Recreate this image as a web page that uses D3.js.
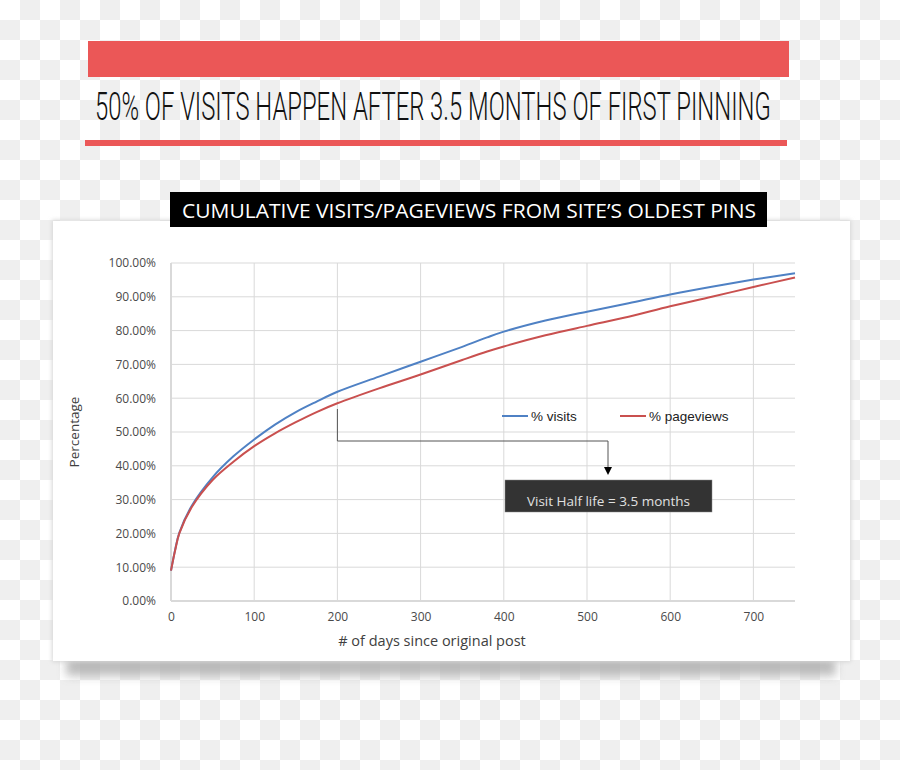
<!DOCTYPE html>
<html><head><meta charset="utf-8">
<script src="https://cdn.jsdelivr.net/npm/d3@7"></script>
<style>html,body{margin:0;padding:0;background:#fff;} svg{display:block}</style>
</head><body><svg id="c" width="900" height="770"></svg>
<script>
// ---- data ----
const days      = [0, 5, 10, 25, 50, 75, 100, 125, 150, 175, 200, 250, 300, 350, 380, 400, 450, 500, 550, 600, 650, 700, 750];
const visits    = [9, 15.2, 20.2, 28.2, 36.6, 42.8, 47.8, 52.2, 55.9, 59.0, 61.9, 66.4, 70.8, 75.2, 78.0, 79.7, 83.0, 85.6, 88.1, 90.7, 93.0, 95.1, 97.0];
const pageviews = [9, 15, 20, 27.8, 35.8, 41.2, 45.8, 49.6, 52.9, 55.9, 58.5, 62.9, 67.0, 71.3, 73.8, 75.3, 78.6, 81.4, 84.1, 87.2, 90.0, 92.9, 95.7];
const seriesNames = ["% visits", "% pageviews"];
const yTicks = [0, 10, 20, 30, 40, 50, 60, 70, 80, 90, 100];
const xTicks = [0, 100, 200, 300, 400, 500, 600, 700];
const headline = "50% OF VISITS HAPPEN AFTER 3.5 MONTHS OF FIRST PINNING";
const subtitle = "CUMULATIVE VISITS/PAGEVIEWS FROM SITE\u2019S OLDEST PINS";
const annotationText = "Visit Half life = 3.5 months";
const annotationDay = 200;

const svg = d3.select("#c");
const defs = svg.append("defs");

// checkerboard background
const pat = defs.append("pattern").attr("id","chk").attr("width",40).attr("height",40).attr("patternUnits","userSpaceOnUse");
pat.append("rect").attr("width",40).attr("height",40).attr("fill","#ffffff");
pat.append("rect").attr("x",20).attr("y",0).attr("width",20).attr("height",20).attr("fill","#efefef");
pat.append("rect").attr("x",0).attr("y",20).attr("width",20).attr("height",20).attr("fill","#efefef");
svg.append("rect").attr("width",900).attr("height",770).attr("fill","url(#chk)");

// header
svg.append("rect").attr("x",88).attr("y",41).attr("width",701).attr("height",36).attr("fill","#eb5757");
const ht = svg.append("text").attr("x",0).attr("y",0).attr("font-family","Roboto,'Liberation Sans',sans-serif").attr("font-weight",300)
  .attr("font-size",38).attr("fill","#111").text(headline);
const hw = ht.node().getComputedTextLength() || 1;
ht.attr("transform",`translate(95,120) scale(${676/hw},1)`);
svg.append("rect").attr("x",85).attr("y",140).attr("width",702).attr("height",6).attr("fill","#eb5757");

// card shadow
const f = defs.append("filter").attr("id","blur").attr("x","-10%").attr("y","-100%").attr("width","120%").attr("height","300%");
f.append("feGaussianBlur").attr("stdDeviation",5);
svg.append("rect").attr("x",66).attr("y",652).attr("width",770).attr("height",24).attr("fill","#a8a8a8").attr("opacity",0.75).attr("filter","url(#blur)");
const f2 = defs.append("filter").attr("id","blur2").attr("x","-10%").attr("y","-10%").attr("width","120%").attr("height","120%");
f2.append("feGaussianBlur").attr("stdDeviation",2);
svg.append("rect").attr("x",52).attr("y",220).attr("width",799).attr("height",442).attr("fill","#d6d6d6").attr("filter","url(#blur2)");
svg.append("rect").attr("x",53).attr("y",221).attr("width",797).attr("height",440).attr("fill","#ffffff");

// subtitle
svg.append("rect").attr("x",170).attr("y",192).attr("width",597).attr("height",35).attr("fill","#000");
svg.append("text").attr("x",182).attr("y",218).attr("font-family","'Open Sans',sans-serif").attr("font-size",20).attr("font-weight",400)
  .attr("fill","#fff").attr("textLength",574).attr("lengthAdjust","spacingAndGlyphs").text(subtitle);

// scales
const x = d3.scaleLinear().domain([0,750]).range([171,795]);
const y = d3.scaleLinear().domain([0,100]).range([601,263]);
const font = "'Open Sans',sans-serif";

// gridlines
const g = svg.append("g");
g.selectAll("line.h").data(yTicks).join("line").attr("class","h")
  .attr("x1",x(0)).attr("x2",x(750)).attr("y1",d=>y(d)).attr("y2",d=>y(d))
  .attr("stroke","#d9d9d9").attr("stroke-width",d=>d===0?2:1);
g.selectAll("line.v").data(xTicks).join("line").attr("class","v")
  .attr("x1",d=>x(d)).attr("x2",d=>x(d)).attr("y1",y(0)).attr("y2",y(100))
  .attr("stroke","#d9d9d9").attr("stroke-width",d=>d===0?2:1);

// axes
const ya = svg.append("g").attr("transform",`translate(${x(0)-12},0)`)
  .call(d3.axisLeft(y).tickValues(yTicks).tickSize(0).tickFormat(d=>d3.format(".2f")(d)+"%"));
ya.select(".domain").remove();
ya.selectAll("text").attr("font-family",font).attr("font-size",12).attr("fill","#4a4a4a").attr("dx",0);
const xa = svg.append("g").attr("transform",`translate(0,${y(0)+8})`)
  .call(d3.axisBottom(x).tickValues(xTicks).tickSize(0).tickFormat(d3.format("d")));
xa.select(".domain").remove();
xa.selectAll("text").attr("font-family",font).attr("font-size",12).attr("fill","#4a4a4a");

svg.append("text").attr("transform","translate(79,432) rotate(-90)").attr("text-anchor","middle")
  .attr("font-family",font).attr("font-size",13.5).attr("fill","#404040").text("Percentage");
svg.append("text").attr("x",432).attr("y",646).attr("text-anchor","middle")
  .attr("font-family",font).attr("font-size",14.5).attr("fill","#404040").text("# of days since original post");

// lines
const colors = ["#4f81c4","#c9504f"];
const series = [visits, pageviews];
const line = d3.line().x(d=>x(d[0])).y(d=>y(d[1])).curve(d3.curveCatmullRom.alpha(0.5));
svg.selectAll("path.s").data(series).join("path").attr("class","s")
  .attr("d",s=>line(days.map((d,i)=>[d,s[i]])))
  .attr("fill","none").attr("stroke",(d,i)=>colors[i]).attr("stroke-width",2);

// legend
const leg = [{x:502},{x:620}];
seriesNames.forEach((n,i)=>{
  svg.append("line").attr("x1",leg[i].x).attr("x2",leg[i].x+26).attr("y1",416).attr("y2",416).attr("stroke",colors[i]).attr("stroke-width",2);
  svg.append("text").attr("x",leg[i].x+29).attr("y",421).attr("font-family","'Liberation Sans',sans-serif").attr("font-size",13.5).attr("fill","#222").text(n);
});

// annotation
const ax = x(annotationDay);
const bx = 608;
svg.append("path").attr("d",`M${ax},409 V441 H${bx} V468`).attr("fill","none").attr("stroke","#555").attr("stroke-width",1);
svg.append("path").attr("d",`M${bx-4},467 L${bx+4},467 L${bx},475 Z`).attr("fill","#000");
svg.append("rect").attr("x",505).attr("y",480).attr("width",207).attr("height",32).attr("fill","#333").attr("stroke","#888").attr("stroke-width",0.5);
svg.append("text").attr("x",608.5).attr("y",506).attr("text-anchor","middle").attr("font-family",font).attr("font-size",13.5)
  .attr("fill","#e0e0e0").text(annotationText);
</script></body></html>
